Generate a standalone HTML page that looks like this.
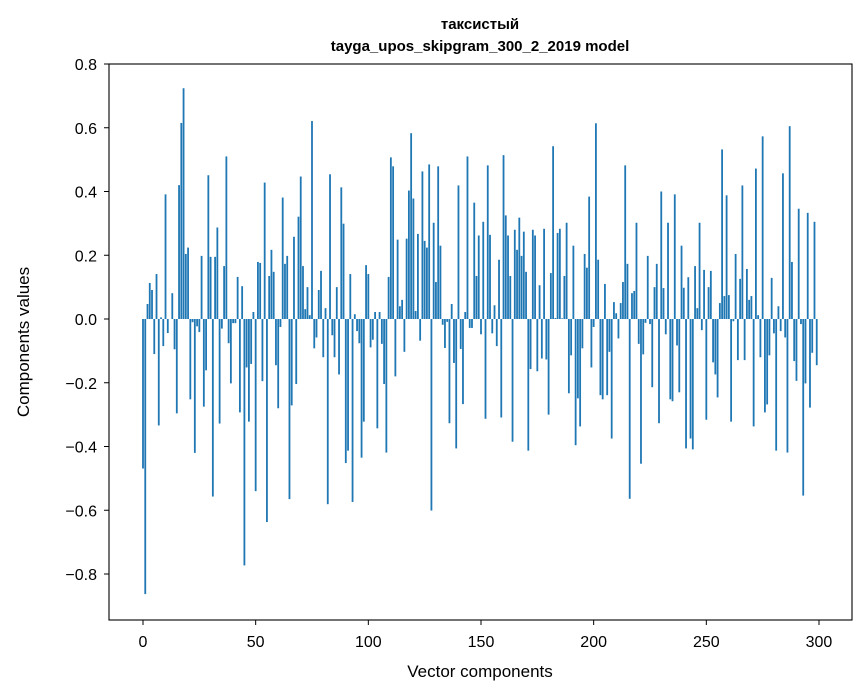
<!DOCTYPE html>
<html><head><meta charset="utf-8"><style>
body{margin:0;background:#fff;}
svg{display:block;font-family:"Liberation Sans","DejaVu Sans","Noto Sans CJK SC",sans-serif;}
</style></head><body>
<svg id="chart" width="867" height="696">
<text x="480" y="29" text-anchor="middle" font-size="15" font-weight="bold">таксистый</text>
<text x="480" y="51" text-anchor="middle" font-size="15" font-weight="bold">tayga_upos_skipgram_300_2_2019 model</text>
<g id="bars"></g>
<g id="yticks"></g>
<g id="xticks"></g>
<rect x="109" y="64" width="743" height="556" fill="none" stroke="#000" stroke-width="1.1"/>
<text x="480" y="677" text-anchor="middle" font-size="17">Vector components</text>
<text transform="translate(29,342) rotate(-90)" text-anchor="middle" font-size="17">Components values</text>
</svg>
<script>
const values = [
-0.469,-0.863,0.047,0.113,0.091,-0.11,0.141,-0.334,0.005,-0.085,
0.391,-0.044,0.0,0.081,-0.095,-0.296,0.42,0.615,0.724,0.204,
0.224,-0.252,-0.01,-0.42,-0.023,-0.041,0.198,-0.275,-0.161,0.451,
0.195,-0.557,0.195,0.287,-0.328,-0.03,0.166,0.51,-0.076,-0.202,
-0.013,-0.013,0.132,-0.293,0.103,-0.773,-0.152,-0.322,-0.141,0.022,
-0.54,0.179,0.176,-0.195,0.428,-0.637,0.135,0.217,0.148,-0.145,
-0.28,-0.025,0.381,0.173,0.198,-0.565,-0.271,0.258,-0.204,0.321,
0.447,0.166,0.031,0.1,0.012,0.621,-0.092,-0.058,0.091,0.151,
-0.12,0.034,-0.581,0.454,-0.051,-0.12,0.1,-0.174,0.413,0.299,
-0.452,-0.413,0.141,-0.574,0.015,-0.038,-0.076,-0.435,-0.322,0.169,
0.141,-0.089,-0.065,0.022,-0.343,0.022,-0.078,-0.204,-0.419,0.132,
0.507,0.479,-0.18,0.249,0.04,0.06,-0.103,0.252,0.403,0.583,
0.378,0.025,0.267,-0.068,0.463,0.245,0.224,0.485,-0.601,0.302,
0.116,0.479,0.23,-0.018,-0.091,-0.009,-0.327,0.047,-0.138,-0.406,
0.419,-0.094,-0.267,0.022,0.51,-0.028,-0.028,0.365,0.135,0.262,
-0.048,0.305,-0.313,0.482,0.264,-0.045,0.043,-0.085,0.186,-0.309,
0.514,0.325,0.262,0.135,-0.385,0.28,0.217,0.318,0.198,0.274,
0.148,-0.413,-0.157,0.28,0.262,-0.164,0.106,-0.124,0.283,-0.127,
-0.3,0.144,0.542,0.003,0.27,0.283,0.002,0.135,0.302,-0.233,
-0.114,0.23,-0.396,-0.249,-0.337,-0.092,0.204,0.161,0.384,-0.152,
-0.025,0.614,0.186,-0.239,-0.252,0.11,-0.239,-0.103,-0.375,0.053,
0.018,-0.061,0.05,0.116,0.482,0.173,-0.564,0.081,0.088,0.302,
-0.078,-0.454,-0.111,-0.012,0.198,-0.016,-0.214,0.1,0.173,-0.327,
0.4,0.097,-0.048,0.302,-0.252,-0.258,0.391,-0.083,-0.23,0.23,
0.098,-0.406,0.131,-0.375,-0.409,0.166,0.034,0.302,-0.035,0.154,
-0.316,0.1,0.151,-0.136,-0.174,-0.246,0.05,0.532,0.072,0.388,
0.075,-0.322,-0.007,0.204,-0.129,0.126,0.419,-0.129,0.157,0.06,
0.072,-0.337,0.472,0.012,-0.12,0.573,-0.293,-0.268,-0.114,0.129,
-0.045,-0.413,0.04,-0.038,0.457,-0.058,-0.419,0.605,0.179,-0.132,
-0.194,0.346,-0.016,-0.554,-0.202,0.333,-0.278,-0.106,0.305,-0.145
];
const yTickValues = [-0.8,-0.6,-0.4,-0.2,0.0,0.2,0.4,0.6,0.8];
const yTickLabels = ["\u22120.8","\u22120.6","\u22120.4","\u22120.2","0.0","0.2","0.4","0.6","0.8"];
const xTickValues = [0,50,100,150,200,250,300];
const xTickLabels = ["0","50","100","150","200","250","300"];

const NS = "http://www.w3.org/2000/svg";
function xScale(i){ return 143 + i*2.2533; }
function yScale(v){ return 319 - v*318.75; }

const gb = document.getElementById('bars');
values.forEach((v,i)=>{
  const r = document.createElementNS(NS,'rect');
  const w = 0.8*2.2533;
  r.setAttribute('x', xScale(i)-w/2);
  r.setAttribute('y', Math.min(yScale(v), yScale(0)));
  r.setAttribute('width', w);
  r.setAttribute('height', Math.abs(yScale(v)-yScale(0)));
  r.setAttribute('fill', '#1f77b4');
  
  
  gb.appendChild(r);
});

const gy = document.getElementById('yticks');
yTickValues.forEach((v,k)=>{
  const y = yScale(v);
  const l = document.createElementNS(NS,'line');
  l.setAttribute('x1',104); l.setAttribute('x2',109);
  l.setAttribute('y1',y); l.setAttribute('y2',y);
  l.setAttribute('stroke','#000');
  
  
  gy.appendChild(l);
  const t = document.createElementNS(NS,'text');
  t.setAttribute('x',97); t.setAttribute('y',y+6);
  t.setAttribute('text-anchor','end'); t.setAttribute('font-size','16');
  t.textContent = yTickLabels[k];
  
  
  gy.appendChild(t);
});

const gx = document.getElementById('xticks');
xTickValues.forEach((v,k)=>{
  const x = xScale(v);
  const l = document.createElementNS(NS,'line');
  l.setAttribute('x1',x); l.setAttribute('x2',x);
  l.setAttribute('y1',620); l.setAttribute('y2',625);
  l.setAttribute('stroke','#000');
  
  
  gx.appendChild(l);
  const t = document.createElementNS(NS,'text');
  t.setAttribute('x',x); t.setAttribute('y',647);
  t.setAttribute('text-anchor','middle'); t.setAttribute('font-size','16');
  t.textContent = xTickLabels[k];
  
  
  gx.appendChild(t);
});
</script>
</body></html>
